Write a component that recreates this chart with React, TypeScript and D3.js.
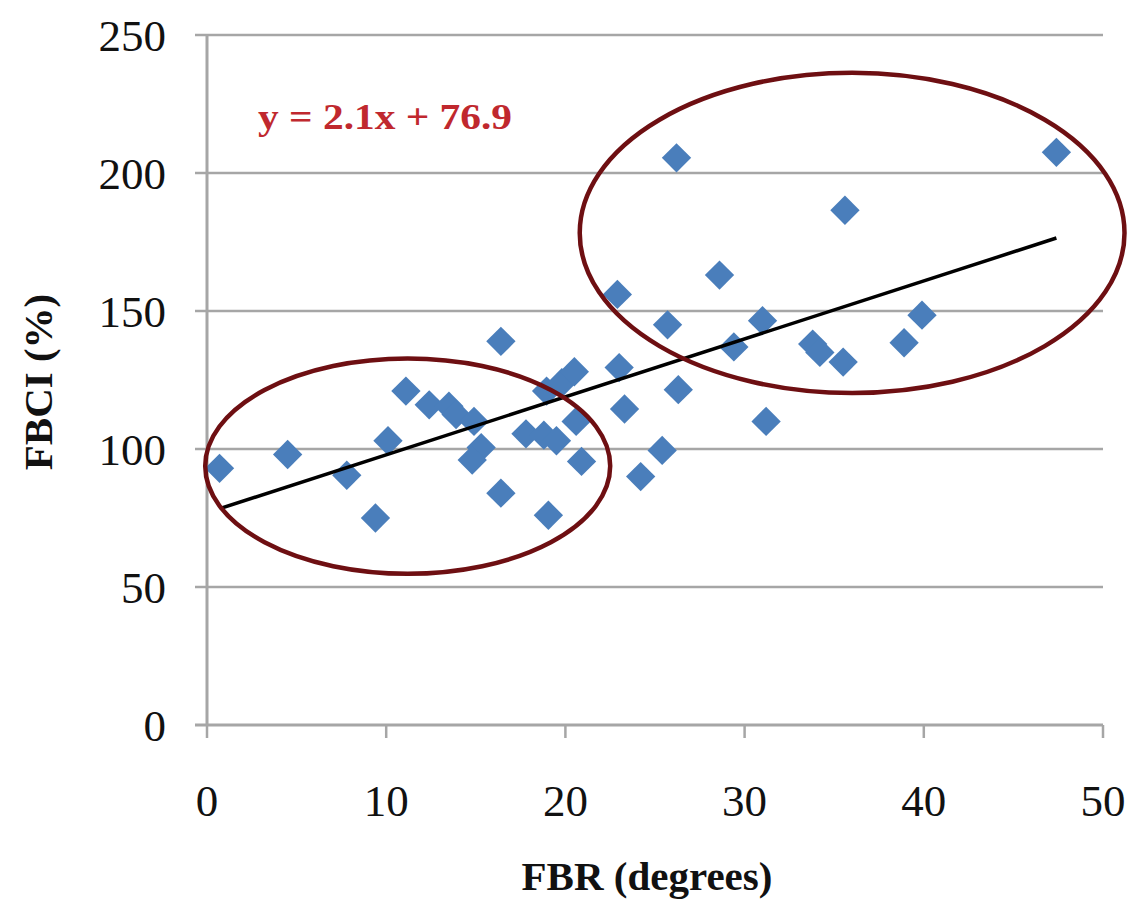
import React, { useEffect, useRef } from 'react';
import * as d3 from 'd3';

// FBR (degrees) vs FBCI (%) readings
const fbr = [0.7, 4.5, 7.8, 9.4, 10.1, 11.1, 12.4, 13.5, 13.9, 14.9, 15.3, 14.8, 16.4, 16.4,
  17.8, 18.8, 19.5, 19.05, 18.95, 19.8, 20.5, 20.6, 20.9, 22.9, 23.0, 23.3, 24.2, 25.4, 25.7,
  26.2, 26.3, 28.6, 29.4, 31.0, 31.2, 33.8, 34.2, 35.5, 35.6, 38.9, 39.9, 47.4];
const fbci = [93, 98, 90.5, 75, 103, 121, 116, 115.5, 112.5, 110, 100.5, 96, 84, 139,
  105.5, 105, 103, 76, 121, 124, 128, 110, 95.5, 156, 129.5, 114.5, 90, 99.5, 145,
  205.5, 121.5, 163, 137, 146.5, 110, 138, 135, 131.5, 186.5, 138.5, 148.5, 207.5];

const xTicks = [0, 10, 20, 30, 40, 50];
const yTicks = [0, 50, 100, 150, 200, 250];

const slope = 2.1;
const intercept = 76.9;

// highlighted groups: [cx, cy, rx, ry] in data units
const groupCx = [11.2, 36.0];
const groupCy = [93.8, 178.3];
const groupRx = [11.3, 15.2];
const groupRy = [39, 58];

export default function App() {
  const ref = useRef<SVGSVGElement>(null);

  useEffect(() => {
    document.body.style.margin = '0';
    const svg = d3.select(ref.current);
    svg.selectAll('*').remove();

    const left = 207, right = 1103, top = 35, bottom = 725;
    const x = d3.scaleLinear().domain([0, 50]).range([left, right]);
    const y = d3.scaleLinear().domain([0, 250]).range([bottom, top]);
    const font = '"Liberation Serif", "Times New Roman", serif';
    const grey = '#a6a6a6';

    // horizontal gridlines (with outward tick stubs)
    svg.append('g').selectAll('line').data(yTicks.filter(t => t > 0)).enter()
      .append('line')
      .attr('x1', left - 12).attr('x2', right)
      .attr('y1', d => y(d)).attr('y2', d => y(d))
      .attr('stroke', grey).attr('stroke-width', 2.5);

    // axes
    svg.append('line').attr('x1', left).attr('x2', left).attr('y1', top).attr('y2', bottom)
      .attr('stroke', grey).attr('stroke-width', 3);
    svg.append('line').attr('x1', left - 12).attr('x2', right).attr('y1', bottom).attr('y2', bottom)
      .attr('stroke', grey).attr('stroke-width', 3);
    svg.append('g').selectAll('line').data(xTicks).enter().append('line')
      .attr('x1', d => x(d)).attr('x2', d => x(d))
      .attr('y1', bottom).attr('y2', bottom + 13)
      .attr('stroke', grey).attr('stroke-width', 2.5);

    // tick labels
    svg.append('g').selectAll('text').data(yTicks).enter().append('text')
      .attr('x', 166).attr('y', d => y(d)).attr('dy', '0.35em')
      .attr('text-anchor', 'end').attr('font-family', font).attr('font-size', 45)
      .attr('fill', '#111').text(d => d);
    svg.append('g').selectAll('text').data(xTicks).enter().append('text')
      .attr('x', d => x(d)).attr('y', 816)
      .attr('text-anchor', 'middle').attr('font-family', font).attr('font-size', 45)
      .attr('fill', '#111').text(d => d);

    // axis titles
    svg.append('text').attr('x', x(25) - 8).attr('y', 890).attr('text-anchor', 'middle')
      .attr('font-family', font).attr('font-size', 41).attr('font-weight', 'bold')
      .attr('fill', '#111').text('FBR (degrees)');
    svg.append('text').attr('transform', `translate(52,382) rotate(-90)`)
      .attr('text-anchor', 'middle')
      .attr('font-family', font).attr('font-size', 41).attr('font-weight', 'bold')
      .attr('fill', '#111').text('FBCI (%)');

    // markers
    const diamond = d3.symbol().type(d3.symbolSquare).size(430)();
    svg.append('g').selectAll('path').data(fbr.map((v, i) => [v, fbci[i]])).enter()
      .append('path')
      .attr('d', diamond)
      .attr('transform', d => `translate(${x(d[0])},${y(d[1])}) rotate(45)`)
      .attr('fill', '#4a7ebb');

    // trendline
    const xMin = d3.min(fbr) as number, xMax = d3.max(fbr) as number;
    svg.append('path')
      .attr('d', d3.line<number>().x(d => x(d)).y(d => y(slope * d + intercept))([xMin, xMax]))
      .attr('stroke', '#000').attr('stroke-width', 3.5).attr('fill', 'none');

    // group ellipses
    svg.append('g').selectAll('ellipse').data(groupCx).enter().append('ellipse')
      .attr('cx', d => x(d))
      .attr('cy', (d, i) => y(groupCy[i]))
      .attr('rx', (d, i) => x(groupRx[i]) - x(0))
      .attr('ry', (d, i) => y(0) - y(groupRy[i]))
      .attr('fill', 'none').attr('stroke', '#6e0f12').attr('stroke-width', 4.5);

    // equation
    svg.append('text').attr('x', 258).attr('y', 129)
      .attr('font-family', font).attr('font-size', 36).attr('font-weight', 'bold')
      .attr('textLength', 254).attr('lengthAdjust', 'spacingAndGlyphs')
      .attr('fill', '#c0282e').text(`y = ${slope}x + ${intercept}`);
  }, []);

  return <svg ref={ref} width={1132} height={900} style={{ display: 'block', background: '#fff' }} />;
}
